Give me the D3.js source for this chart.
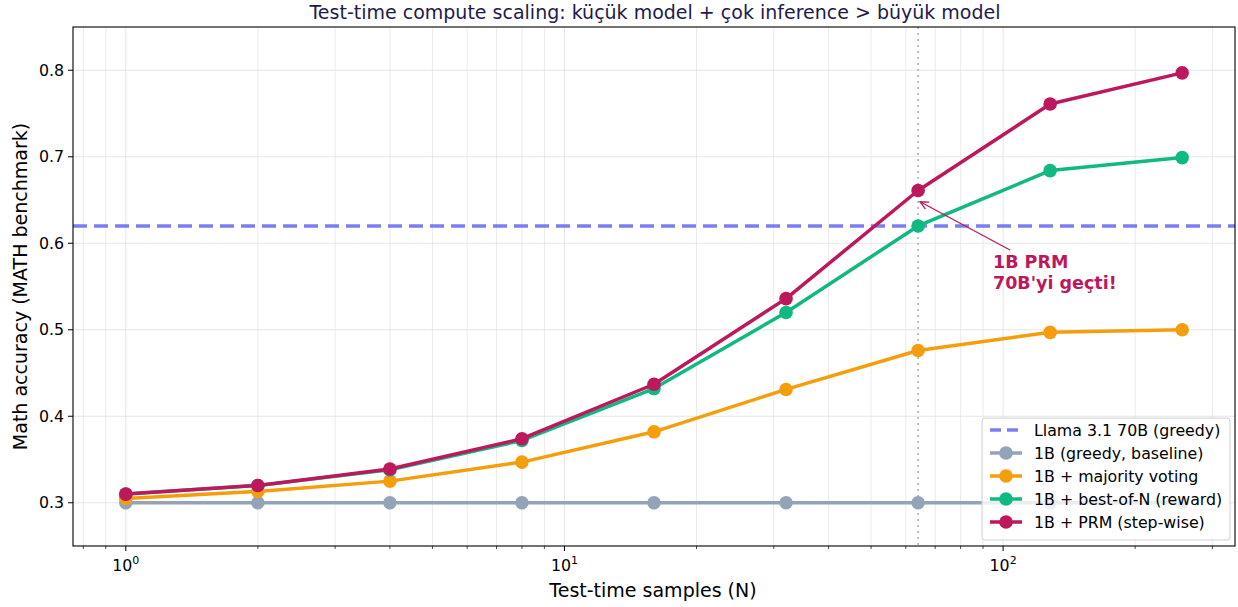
<!DOCTYPE html>
<html>
<head>
<meta charset="utf-8">
<script src="https://cdn.jsdelivr.net/npm/d3@7"></script>
<style>
  body { margin: 0; background: #fff; }
  svg { display: block; font-family: "DejaVu Sans", sans-serif; }
</style>
</head>
<body>
<svg id="chart" width="1238" height="607"></svg>
<script>
// Test-time samples and accuracy per strategy
const samples = [1, 2, 4, 8, 16, 32, 64, 128, 256];
const greedyBaseline = [0.30, 0.30, 0.30, 0.30, 0.30, 0.30, 0.30, 0.30, 0.30];
const majorityVoting = [0.305, 0.313, 0.325, 0.347, 0.382, 0.431, 0.476, 0.497, 0.500];
const bestOfN = [0.310, 0.320, 0.338, 0.372, 0.432, 0.520, 0.620, 0.684, 0.699];
const prmStepwise = [0.310, 0.320, 0.339, 0.374, 0.437, 0.536, 0.661, 0.761, 0.797];
const llama70B = 0.62;
const crossoverN = 64;
const yTicks = [0.3, 0.4, 0.5, 0.6, 0.7, 0.8];
const xDecades = [1, 10, 100];

const seriesNames = [
  "1B (greedy, baseline)",
  "1B + majority voting",
  "1B + best-of-N (reward)",
  "1B + PRM (step-wise)"
];
const seriesColors = ["#94a3b8", "#f59e0b", "#10b981", "#be185d"];
const series = [greedyBaseline, majorityVoting, bestOfN, prmStepwise];

const svg = d3.select("#chart");
const m = { left: 73, right: 1235, top: 27, bottom: 546 };

const logMin = Math.log10(samples[0]);
const logMax = Math.log10(samples[samples.length - 1]);
const pad = (logMax - logMin) * 0.05;
const x = d3.scaleLog()
  .domain([Math.pow(10, logMin - pad), Math.pow(10, logMax + pad)])
  .range([m.left, m.right]);
const y = d3.scaleLinear().domain([0.25, 0.85]).range([m.bottom, m.top]);

// minor tick positions across the visible range
const minorTicks = [];
for (let d = 0.1; d <= 1000; d *= 10) {
  for (let k = 2; k <= 9; k++) {
    const v = d * k;
    if (v >= x.domain()[0] && v <= x.domain()[1]) minorTicks.push(v);
  }
}

// grid
const grid = svg.append("g");
grid.selectAll(".vminor").data(minorTicks).enter().append("line")
  .attr("x1", d => x(d)).attr("x2", d => x(d))
  .attr("y1", m.top).attr("y2", m.bottom)
  .attr("stroke", "#e6e6e6").attr("stroke-width", 0.8);
grid.selectAll(".vmajor").data(xDecades).enter().append("line")
  .attr("x1", d => x(d)).attr("x2", d => x(d))
  .attr("y1", m.top).attr("y2", m.bottom)
  .attr("stroke", "#e0e0e0").attr("stroke-width", 0.8);
grid.selectAll(".h").data(yTicks).enter().append("line")
  .attr("x1", m.left).attr("x2", m.right)
  .attr("y1", d => y(d)).attr("y2", d => y(d))
  .attr("stroke", "#e0e0e0").attr("stroke-width", 0.8);

// 70B reference line
svg.append("line")
  .attr("x1", m.left).attr("x2", m.right)
  .attr("y1", y(llama70B)).attr("y2", y(llama70B))
  .attr("stroke", "#6366f1").attr("stroke-opacity", 0.85)
  .attr("stroke-width", 3.5).attr("stroke-dasharray", "14,7");

// crossover marker
svg.append("line")
  .attr("x1", x(crossoverN)).attr("x2", x(crossoverN))
  .attr("y1", m.top).attr("y2", m.bottom)
  .attr("stroke", "#b0b0b0").attr("stroke-width", 1.6)
  .attr("stroke-dasharray", "2,4");

// series
const line = d3.line().x(d => x(d[0])).y(d => y(d[1]));
series.forEach((vals, i) => {
  const pts = samples.map((n, j) => [n, vals[j]]);
  const g = svg.append("g");
  g.append("path").datum(pts)
    .attr("d", line).attr("fill", "none")
    .attr("stroke", seriesColors[i]).attr("stroke-width", 3.5)
    .attr("stroke-linejoin", "round");
  g.selectAll("circle").data(pts).enter().append("circle")
    .attr("cx", d => x(d[0])).attr("cy", d => y(d[1]))
    .attr("r", 6.8).attr("fill", seriesColors[i]);
});

// annotation
const accent = "#be185d";
const ax0 = x(crossoverN) + 2, ay0 = y(0.648);
const ax1 = 1010, ay1 = 250;
svg.append("line")
  .attr("x1", ax1).attr("y1", ay1).attr("x2", ax0).attr("y2", ay0)
  .attr("stroke", accent).attr("stroke-width", 1.3);
const ang = Math.atan2(ay1 - ay0, ax1 - ax0);
const hl = 9, hw = 0.45;
svg.append("path")
  .attr("d", `M${ax0 + hl * Math.cos(ang - hw)},${ay0 + hl * Math.sin(ang - hw)} L${ax0},${ay0} L${ax0 + hl * Math.cos(ang + hw)},${ay0 + hl * Math.sin(ang + hw)}`)
  .attr("fill", "none").attr("stroke", accent).attr("stroke-width", 1.3);
const ann = svg.append("text")
  .attr("fill", accent).attr("font-size", 17.5).attr("font-weight", "bold");
ann.append("tspan").attr("x", 993).attr("y", 268).text("1B PRM");
ann.append("tspan").attr("x", 993).attr("y", 289).text("70B'yi geçti!");

// frame
svg.append("rect")
  .attr("x", m.left).attr("y", m.top)
  .attr("width", m.right - m.left).attr("height", m.bottom - m.top)
  .attr("fill", "none").attr("stroke", "#000").attr("stroke-width", 1.1);

// y axis
const yg = svg.append("g");
yTicks.forEach(t => {
  yg.append("line").attr("x1", m.left - 5).attr("x2", m.left)
    .attr("y1", y(t)).attr("y2", y(t)).attr("stroke", "#000");
  yg.append("text").attr("x", m.left - 9).attr("y", y(t))
    .attr("dy", "0.35em").attr("text-anchor", "end")
    .attr("font-size", 15.8).attr("fill", "#000").text(t.toFixed(1));
});

// x axis
const xg = svg.append("g");
minorTicks.forEach(t => {
  xg.append("line").attr("x1", x(t)).attr("x2", x(t))
    .attr("y1", m.bottom).attr("y2", m.bottom + 3).attr("stroke", "#000").attr("stroke-width", 0.7);
});
xDecades.forEach(t => {
  xg.append("line").attr("x1", x(t)).attr("x2", x(t))
    .attr("y1", m.bottom).attr("y2", m.bottom + 5).attr("stroke", "#000");
  const tx = xg.append("text").attr("x", x(t)).attr("y", m.bottom + 25)
    .attr("text-anchor", "middle").attr("font-size", 15.8).attr("fill", "#000");
  tx.append("tspan").text("10");
  tx.append("tspan").attr("dy", -7).attr("font-size", 11).text(String(Math.round(Math.log10(t))));
});

// axis titles
svg.append("text").attr("x", (m.left + m.right) / 2 - 1).attr("y", 597)
  .attr("text-anchor", "middle").attr("font-size", 19).attr("fill", "#000")
  .text("Test-time samples (N)");
svg.append("text")
  .attr("transform", `translate(27,${(m.top + m.bottom) / 2}) rotate(-90)`)
  .attr("text-anchor", "middle").attr("font-size", 19).attr("fill", "#000")
  .text("Math accuracy (MATH benchmark)");

// title
svg.append("text").attr("x", (m.left + m.right) / 2 + 1).attr("y", 19)
  .attr("text-anchor", "middle").attr("font-size", 19).attr("fill", "#1e1b4b")
  .text("Test-time compute scaling: küçük model + çok inference > büyük model");

// legend
const lg = svg.append("g");
lg.append("rect").attr("x", 982).attr("y", 418).attr("width", 248).attr("height", 122)
  .attr("rx", 3).attr("fill", "#fff").attr("fill-opacity", 0.8)
  .attr("stroke", "#d0d0d0").attr("stroke-width", 1);
const legendItems = [{ name: "Llama 3.1 70B (greedy)", color: "#6366f1", dashed: true }]
  .concat(seriesNames.map((n, i) => ({ name: n, color: seriesColors[i], dashed: false })));
legendItems.forEach((it, i) => {
  const ly = 430 + i * 23;
  lg.append("line").attr("x1", 990).attr("x2", 1022).attr("y1", ly).attr("y2", ly)
    .attr("stroke", it.color).attr("stroke-width", 3.5)
    .attr("stroke-opacity", it.dashed ? 0.85 : 1)
    .attr("stroke-dasharray", it.dashed ? "11,6" : null);
  if (!it.dashed) {
    lg.append("circle").attr("cx", 1006).attr("cy", ly).attr("r", 6.8).attr("fill", it.color);
  }
  lg.append("text").attr("x", 1034).attr("y", ly).attr("dy", "0.35em")
    .attr("font-size", 15.8).attr("fill", "#000").text(it.name);
});
</script>
</body>
</html>
